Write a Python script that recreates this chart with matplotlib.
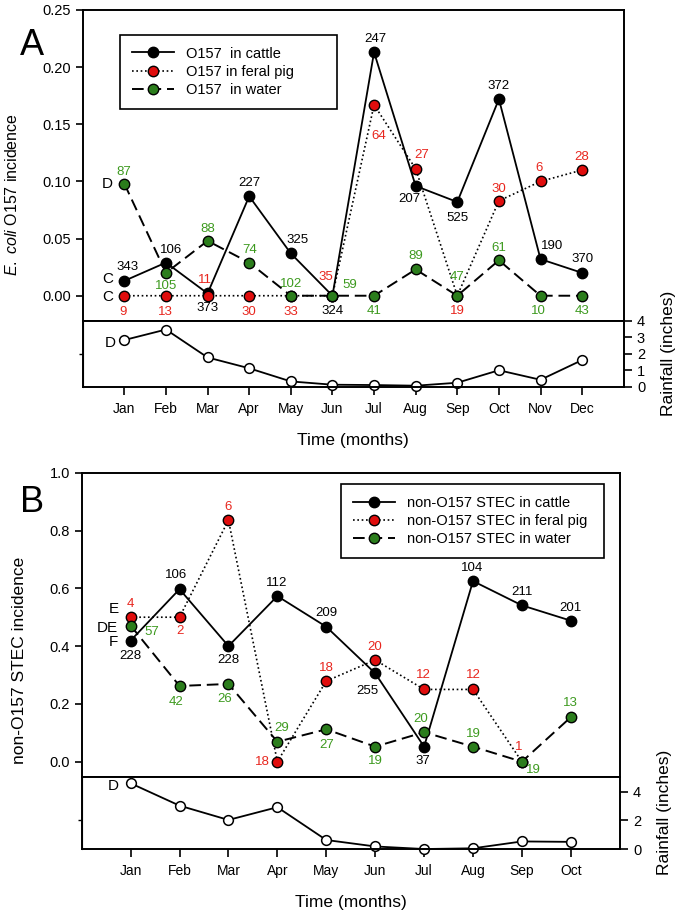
import matplotlib.pyplot as plt
import numpy as np

plt.rcParams['font.family'] = ['Liberation Sans', 'DejaVu Sans']
plt.rcParams['mathtext.fontset'] = 'custom'
plt.rcParams['mathtext.rm'] = 'Liberation Sans'
plt.rcParams['mathtext.it'] = 'Liberation Sans:italic'

# ---- panel A data: E. coli O157 ----
months_a = ['Jan', 'Feb', 'Mar', 'Apr', 'May', 'Jun', 'Jul', 'Aug', 'Sep', 'Oct', 'Nov', 'Dec']
cattle_a = [0.013, 0.029, 0.002, 0.087, 0.037, 0.0, 0.213, 0.096, 0.082, 0.172, 0.032, 0.020]
pig_a = [0.0, 0.0, 0.0, 0.0, 0.0, 0.0, 0.167, 0.111, 0.0, 0.083, 0.100, 0.110]
water_a = [0.098, 0.020, 0.048, 0.029, 0.0, 0.0, 0.0, 0.023, 0.0, 0.031, 0.0, 0.0]
n_cattle_a = ['343', '106', '373', '227', '325', '324', '247', '207', '525', '372', '190', '370']
n_pig_a = ['9', '13', '11', '30', '33', '35', '64', '27', '19', '30', '6', '28']
n_water_a = ['87', '105', '88', '74', '102', '59', '41', '89', '47', '61', '10', '43']
rain_a = [2.84, 3.48, 1.78, 1.12, 0.32, 0.12, 0.10, 0.06, 0.24, 1.0, 0.42, 1.62]

# ---- panel B data: non-O157 STEC ----
months_b = ['Jan', 'Feb', 'Mar', 'Apr', 'May', 'Jun', 'Jul', 'Aug', 'Sep', 'Oct']
cattle_b = [0.419, 0.597, 0.400, 0.573, 0.467, 0.306, 0.052, 0.625, 0.541, 0.488]
pig_b = [0.50, 0.50, 0.836, 0.0, 0.279, 0.352, 0.25, 0.25, 0.0, np.nan]
water_b = [0.471, 0.262, 0.269, 0.069, 0.112, 0.052, 0.102, 0.052, 0.0, 0.154]
n_cattle_b = ['228', '106', '228', '112', '209', '255', '37', '104', '211', '201']
n_pig_b = ['4', '2', '6', '18', '18', '20', '12', '12', '1', '']
n_water_b = ['57', '42', '26', '29', '27', '19', '20', '19', '19', '13']
rain_b = [4.59, 3.03, 2.03, 2.92, 0.63, 0.18, 0.0, 0.05, 0.53, 0.5]

# label offsets (pixels) for the sample-size numbers
off_cattle_a = [(3, 14), (5, 13), (0, -15), (0, 13), (7, 13), (0, -15), (1, 13), (-6, -13), (0, -16), (0, 13), (12, 13), (0, 14)]
off_pig_a = [(-1, -16), (-1, -16), (-3, 16), (0, -16), (0, -16), (-7, 19), (5, -31), (6, 14), (0, -15), (0, 12), (-1, 13), (0, 13)]
off_water_a = [(-1, 12), (0, -13), (0, 12), (0, 13), (0, 12), (17, 11), (0, -15), (0, 13), (0, 19), (0, 12), (-2, -15), (0, -15)]
off_cattle_b = [(0, -15), (-3, 14), (0, -14), (-1, 13), (0, 14), (-8, -18), (-1, -14), (-1, 13), (0, 13), (0, 13)]
off_pig_b = [(0, 13), (0, -14), (0, 13), (-15, 0), (0, 13), (0, 13), (-1, 14), (0, 14), (-3, 15), (0, 0)]
off_water_b = [(21, -6), (-3, -16), (-4, -15), (4, 14), (0, -16), (0, -14), (-3, 13), (0, 13), (11, -8), (0, 14)]

RED = '#e00d0d'
RED_T = '#e8261e'
GREEN = '#2b7d1c'
GREEN_T = '#3d9a1f'


def draw_panel(fig, rect_main, rect_rain, months, cattle, pig, water, ns, offs,
               rain, labels, ylim, yticks, yfmt, rain_lim, rain_ticks, leg_box):
    x = np.arange(len(months))
    ax = fig.add_axes(rect_main)
    ar = fig.add_axes(rect_rain)
    mk = dict(marker='o', markersize=7.5, markeredgecolor='black', markeredgewidth=1.0, clip_on=False)
    ax.plot(x, cattle, '-', color='black', lw=1.3, markerfacecolor='black', label=labels[0], **mk)
    ax.plot(x, pig, color='black', lw=1.2, linestyle=(0, (1, 1.6)), markerfacecolor=RED, label=labels[1], **mk)
    ax.plot(x, water, color='black', lw=1.4, linestyle=(0, (6, 3)), markerfacecolor=GREEN, label=labels[2], **mk)
    for vals, nn, oo, col in zip((cattle, pig, water), ns, offs, ('black', RED_T, GREEN_T)):
        for xi, v, t, o in zip(x, vals, nn, oo):
            if t:
                ax.annotate(t, (xi, v), xytext=o, textcoords='offset pixels',
                            ha='center', va='center', fontsize=9.5, color=col)
    ax.set_xlim(-1, len(months))
    ax.set_ylim(*ylim)
    ax.set_yticks(yticks)
    ax.set_yticklabels([yfmt.format(t) for t in yticks])
    ax.set_xticks([])
    ax.tick_params(axis='y', direction='out', length=5, width=1.2, labelsize=10.5)
    for s in ax.spines.values():
        s.set_linewidth(1.4)
    leg = ax.legend(loc='upper left', bbox_to_anchor=leg_box, mode='expand', borderaxespad=0,
                    fontsize=10.5, frameon=True, fancybox=False, edgecolor='black', framealpha=1,
                    handlelength=2.9, handletextpad=0.8, labelspacing=0.3, numpoints=1,
                    borderpad=0.8)
    leg.get_frame().set_linewidth(1.2)

    ar.plot(x, rain, '-', color='black', lw=1.3, marker='o', markersize=7,
            markerfacecolor='white', markeredgecolor='black', markeredgewidth=1.1, clip_on=False)
    ar.set_xlim(-1, len(months))
    ar.set_ylim(*rain_lim)
    ar.set_xticks(x)
    ar.set_xticklabels(months)
    ar.yaxis.tick_right()
    ar.set_yticks(rain_ticks)
    ar.tick_params(axis='both', direction='out', length=6, width=1.2, labelsize=10.5)
    ar.tick_params(axis='x', pad=5, labelsize=10)
    for s in ar.spines.values():
        s.set_linewidth(1.4)
    sec = ar.secondary_yaxis('left')
    sec.set_yticks([2])
    sec.set_yticklabels([''])
    sec.tick_params(length=3, width=1)
    return ax, ar


fig = plt.figure(figsize=(6.82, 9.15), dpi=100)

axA, arA = draw_panel(fig, [0.1213, 0.6492, 0.7933, 0.3399], [0.1213, 0.5774, 0.7933, 0.0718],
                      months_a, cattle_a, pig_a, water_a,
                      (n_cattle_a, n_pig_a, n_water_a), (off_cattle_a, off_pig_a, off_water_a),
                      rain_a, ['O157  in cattle', 'O157 in feral pig', 'O157  in water'],
                      (-0.0221, 0.25), [0.0, 0.05, 0.10, 0.15, 0.20, 0.25], '{:.2f}',
                      (0, 4), [0, 1, 2, 3, 4], (0.069, 0.6, 0.401, 0.32))

axB, arB = draw_panel(fig, [0.1198, 0.15115, 0.7889, 0.3322], [0.1198, 0.0721, 0.7889, 0.07905],
                      months_b, cattle_b, pig_b, water_b,
                      (n_cattle_b, n_pig_b, n_water_b), (off_cattle_b, off_pig_b, off_water_b),
                      rain_b, ['non-O157 STEC in cattle', 'non-O157 STEC in feral pig', 'non-O157 STEC in water'],
                      (-0.052, 1.0), [0.0, 0.2, 0.4, 0.6, 0.8, 1.0], '{:.1f}',
                      (0, 5.05), [0, 2, 4], (0.4827, 0.7, 0.4877, 0.263))

# source letters next to January points
letter = dict(textcoords='offset pixels', ha='center', va='center', fontsize=11)
axA.annotate('C', (0, cattle_a[0]), xytext=(-17, 2), **letter)
axA.annotate('C', (0, pig_a[0]), xytext=(-17, -1), **letter)
axA.annotate('D', (0, water_a[0]), xytext=(-17, 0), **letter)
arA.annotate('D', (0, rain_a[0]), xytext=(-14, -3), **letter)
axB.annotate('E', (0, pig_b[0]), xytext=(-17, 8), **letter)
axB.annotate('DE', (0, water_b[0]), xytext=(-23, -2), **letter)
axB.annotate('F', (0, cattle_b[0]), xytext=(-17, -1), **letter)
arB.annotate('D', (0, rain_b[0]), xytext=(-17, -3), **letter)

# panel letters and axis titles
fig.text(20 / 682, 1 - 55 / 915, 'A', fontsize=26, ha='left', va='baseline')
fig.text(20 / 682, 1 - 512 / 915, 'B', fontsize=26, ha='left', va='baseline')
fig.text(12 / 682, 1 - 195 / 915, r'$\mathit{E.\ coli}$ O157 incidence', rotation=90,
         ha='center', va='center', fontsize=11.5)
fig.text(20 / 682, 1 - 660 / 915, 'non-O157 STEC incidence', rotation=90,
         ha='center', va='center', fontsize=12.5)
fig.text(353 / 682, 1 - 440 / 915, 'Time (months)', ha='center', va='center', fontsize=12.5)
fig.text(351 / 682, 1 - 902 / 915, 'Time (months)', ha='center', va='center', fontsize=12.5)
fig.text(669 / 682, 1 - 353 / 915, 'Rainfall (inches)', rotation=90, ha='center', va='center', fontsize=12.5)
fig.text(665 / 682, 1 - 812 / 915, 'Rainfall (inches)', rotation=90, ha='center', va='center', fontsize=12.5)

fig.savefig('out.png', dpi=100)
